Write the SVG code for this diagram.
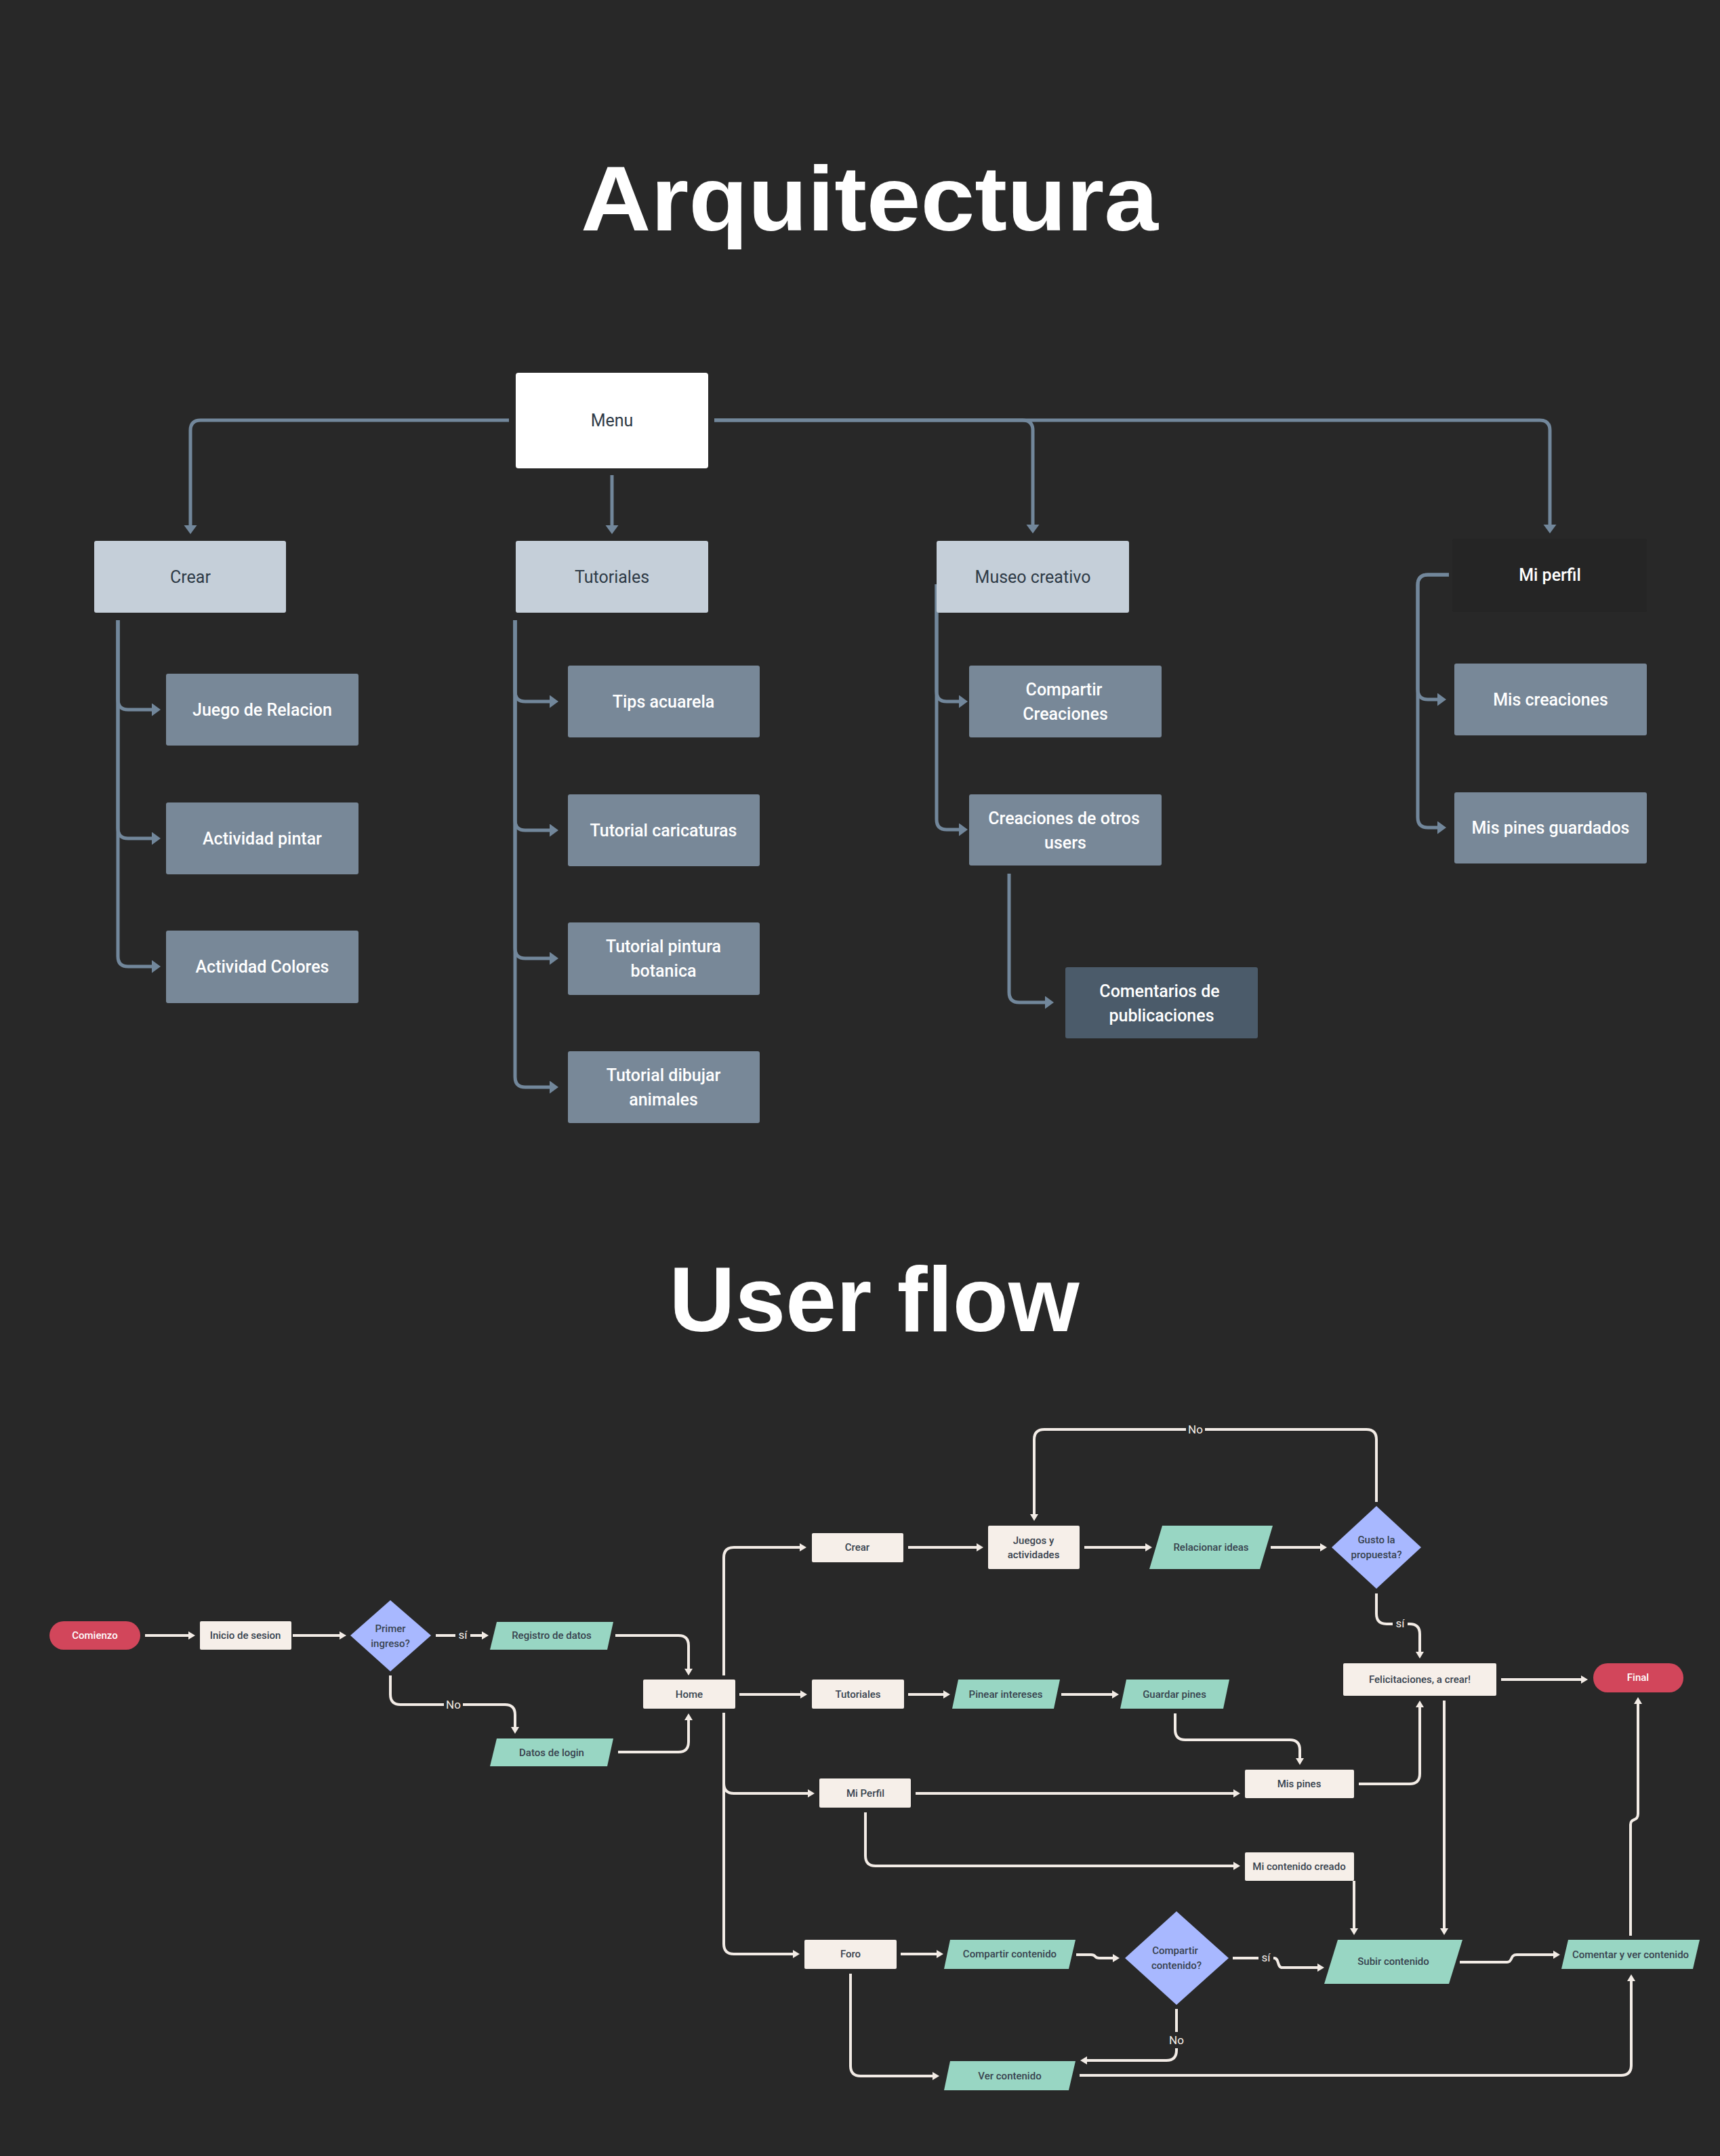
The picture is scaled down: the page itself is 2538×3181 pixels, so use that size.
<svg xmlns="http://www.w3.org/2000/svg" width="2538" height="3181" viewBox="0 0 2538 3181">
<style>
.title{font-family:"Liberation Sans",Arial,sans-serif;font-weight:700;font-size:135px;fill:#ffffff}
.t{font-family:Roboto,"Liberation Sans",sans-serif;text-anchor:middle;dominant-baseline:central}
.a1{fill:#c5cfd9}
.a2{fill:#788898}
.a3{fill:#4b5b6a}
.at1{font-size:25px;fill:#2f3b47}
.at2{font-size:25px;font-weight:500;fill:#ffffff}
.aline{fill:none;stroke:#72879b;stroke-width:5;marker-end:url(#ah)}
.cream{fill:#f6efe9}
.mint{fill:#98d6c3}
.dia{fill:#a8b8ff}
.red{fill:#d2465b}
.ut{font-size:15px;font-weight:500;fill:#38434f}
.uw{font-size:15px;font-weight:500;fill:#ffffff}
.uline{fill:none;stroke:#f3ece6;stroke-width:4;marker-end:url(#uh)}
.uplain{fill:none;stroke:#f3ece6;stroke-width:4}
.lbl{font-family:Roboto,"Liberation Sans",sans-serif;font-size:17px;fill:#f3ece6;text-anchor:middle;dominant-baseline:central}
.lbg{fill:#282828}
</style>
<defs>
<marker id="ah" markerUnits="userSpaceOnUse" markerWidth="14" markerHeight="20" refX="9" refY="9.5" orient="auto" viewBox="0 0 14 20">
<path d="M0,0 L13,9.5 L0,19 z" fill="#72879b"/>
</marker>
<marker id="uh" markerUnits="userSpaceOnUse" markerWidth="11" markerHeight="13" refX="6" refY="6" orient="auto" viewBox="0 0 11 13">
<path d="M0,0 L10,6 L0,12 z" fill="#f3ece6"/>
</marker>
</defs>
<rect x="0" y="0" width="2538" height="3181" fill="#282828"/>

<text class="title" x="1283" y="340" text-anchor="middle" textLength="852" lengthAdjust="spacingAndGlyphs">Arquitectura</text>
<text class="title" x="1290" y="1964" text-anchor="middle" textLength="605" lengthAdjust="spacingAndGlyphs">User flow</text>

<g id="arch-connectors">
<path class="aline" d="M751,620 H296 Q281,620 281,635 V784"/>
<path class="aline" d="M903,701 V784"/>
<path class="aline" d="M1054,620 H1509 Q1524,620 1524,635 V783"/>
<path class="aline" d="M1054,620 H2272 Q2287,620 2287,635 V783"/>
<path class="aline" d="M174,915 V1032 Q174,1047 189,1047 H233"/>
<path class="aline" d="M174,915 V1222 Q174,1237 189,1237 H233"/>
<path class="aline" d="M174,915 V1411 Q174,1426 189,1426 H233"/>
<path class="aline" d="M760,915 V1020 Q760,1035 775,1035 H820"/>
<path class="aline" d="M760,915 V1210 Q760,1225 775,1225 H820"/>
<path class="aline" d="M760,915 V1399 Q760,1414 775,1414 H820"/>
<path class="aline" d="M760,915 V1589 Q760,1604 775,1604 H820"/>
<path class="aline" d="M1382,862 V1020 Q1382,1035 1397,1035 H1424"/>
<path class="aline" d="M1382,862 V1209 Q1382,1224 1397,1224 H1424"/>
<path class="aline" d="M1489,1289 V1464 Q1489,1479 1504,1479 H1551"/>
<path class="aline" d="M2138,848 H2107 Q2092,848 2092,863 V1017 Q2092,1032 2107,1032 H2130"/>
<path class="aline" d="M2138,848 H2107 Q2092,848 2092,863 V1206 Q2092,1221 2107,1221 H2130"/>
</g>

<g id="menu"><rect x="761" y="550" width="284" height="141" rx="4" fill="#ffffff"/><text class="t at1" x="903" y="620" fill="#333">Menu</text></g>
<g id="crear"><rect class="a1" x="139" y="798" width="283" height="106" rx="3"/><text class="t at1" x="281" y="851">Crear</text></g>
<g id="tutoriales"><rect class="a1" x="761" y="798" width="284" height="106" rx="3"/><text class="t at1" x="903" y="851">Tutoriales</text></g>
<g id="museo"><rect class="a1" x="1382" y="798" width="284" height="106" rx="3"/><text class="t at1" x="1524" y="851">Museo creativo</text></g>
<g id="miperfil"><rect x="2143" y="795" width="287" height="108" rx="3" fill="#252525"/><text class="t at2" x="2287" y="848">Mi perfil</text></g>

<g id="juego"><rect class="a2" x="245" y="994" width="284" height="106" rx="3"/><text class="t at2" x="387" y="1047">Juego de Relacion</text></g>
<g id="pintar"><rect class="a2" x="245" y="1184" width="284" height="106" rx="3"/><text class="t at2" x="387" y="1237">Actividad pintar</text></g>
<g id="colores"><rect class="a2" x="245" y="1373" width="284" height="107" rx="3"/><text class="t at2" x="387" y="1426">Actividad Colores</text></g>
<g id="tips"><rect class="a2" x="838" y="982" width="283" height="106" rx="3"/><text class="t at2" x="979" y="1035">Tips acuarela</text></g>
<g id="caricaturas"><rect class="a2" x="838" y="1172" width="283" height="106" rx="3"/><text class="t at2" x="979" y="1225">Tutorial caricaturas</text></g>
<g id="botanica"><rect class="a2" x="838" y="1361" width="283" height="107" rx="3"/><text class="t at2" x="979" y="1396">Tutorial pintura</text><text class="t at2" x="979" y="1432">botanica</text></g>
<g id="dibujar"><rect class="a2" x="838" y="1551" width="283" height="106" rx="3"/><text class="t at2" x="979" y="1586">Tutorial dibujar</text><text class="t at2" x="979" y="1622">animales</text></g>
<g id="compartir"><rect class="a2" x="1430" y="982" width="284" height="106" rx="3"/><text class="t at2" x="1570" y="1017">Compartir</text><text class="t at2" x="1572" y="1053">Creaciones</text></g>
<g id="otros"><rect class="a2" x="1430" y="1172" width="284" height="105" rx="3"/><text class="t at2" x="1570" y="1207">Creaciones de otros</text><text class="t at2" x="1572" y="1243">users</text></g>
<g id="comentarios"><rect class="a3" x="1572" y="1427" width="284" height="105" rx="3"/><text class="t at2" x="1711" y="1462">Comentarios de</text><text class="t at2" x="1714" y="1498">publicaciones</text></g>
<g id="miscreaciones"><rect class="a2" x="2146" y="979" width="284" height="106" rx="3"/><text class="t at2" x="2288" y="1032">Mis creaciones</text></g>
<g id="mispinesguardados"><rect class="a2" x="2146" y="1169" width="284" height="105" rx="3"/><text class="t at2" x="2288" y="1221">Mis pines guardados</text></g>

<g id="flow-connectors">
<path class="uline" d="M214,2413 H284"/>
<path class="uline" d="M432,2413 H507"/>
<path class="uline" d="M643,2413 H717"/>
<path class="uline" d="M908,2413 H1001 Q1016,2413 1016,2428 V2468"/>
<path class="uline" d="M576,2472 V2500 Q576,2515 591,2515 H745 Q760,2515 760,2530 V2554"/>
<path class="uline" d="M912,2585 H1001 Q1016,2585 1016,2570 V2532"/>
<path class="uline" d="M1068,2472 V2298 Q1068,2283 1083,2283 H1186"/>
<path class="uline" d="M1091,2500 H1187"/>
<path class="uline" d="M1068,2527 V2631 Q1068,2646 1083,2646 H1198"/>
<path class="uline" d="M1068,2527 V2868 Q1068,2883 1083,2883 H1176"/>
<path class="uline" d="M1340,2283 H1447"/>
<path class="uline" d="M1600,2283 H1696"/>
<path class="uline" d="M1875,2283 H1954"/>
<path class="uline" d="M2031,2216 V2124 Q2031,2109 2016,2109 H1541 Q1526,2109 1526,2124 V2240"/>
<path class="uline" d="M2031,2351 V2381 Q2031,2396 2046,2396 H2080 Q2095,2396 2095,2411 V2443"/>
<path class="uline" d="M2215,2478 H2339"/>
<path class="uline" d="M1340,2500 H1398"/>
<path class="uline" d="M1566,2500 H1647"/>
<path class="uline" d="M1734,2528 V2552 Q1734,2567 1749,2567 H1903 Q1918,2567 1918,2582 V2600"/>
<path class="uline" d="M1351,2646 H1826"/>
<path class="uline" d="M1277,2674 V2738 Q1277,2753 1292,2753 H1826"/>
<path class="uline" d="M2005,2632 H2080 Q2095,2632 2095,2617 V2513"/>
<path class="uline" d="M2131,2509 V2851"/>
<path class="uline" d="M1998,2775 V2851"/>
<path class="uline" d="M1329,2883 H1388"/>
<path class="uline" d="M1588,2884 H1610 C1618,2884 1614,2889 1622,2889 H1648"/>
<path class="uline" d="M1819,2889 H1880 C1888,2889 1884,2903 1892,2903 H1950"/>
<path class="uline" d="M1736,2964 V3025 Q1736,3040 1721,3040 H1598"/>
<path class="uline" d="M1255,2912 V3048 Q1255,3063 1270,3063 H1382"/>
<path class="uline" d="M1593,3062 H2392 Q2407,3062 2407,3047 V2917"/>
<path class="uline" d="M2154,2895 H2224 C2232,2895 2228,2884 2238,2884 H2298"/>
<path class="uline" d="M2406,2856 V2692 C2406,2682 2417,2688 2417,2676 V2508"/>
<rect class="lbg" x="672" y="2401" width="22" height="24"/>
<text class="lbl" x="683" y="2412">sí</text>
<rect class="lbg" x="655" y="2503" width="28" height="24"/>
<text class="lbl" x="669" y="2515">No</text>
<rect class="lbg" x="1750" y="2097" width="28" height="24"/>
<text class="lbl" x="1764" y="2109">No</text>
<rect class="lbg" x="2055" y="2384" width="22" height="24"/>
<text class="lbl" x="2066" y="2395">sí</text>
<rect class="lbg" x="1857" y="2877" width="22" height="24"/>
<text class="lbl" x="1868" y="2888">sí</text>
<rect class="lbg" x="1722" y="2998" width="28" height="24"/>
<text class="lbl" x="1736" y="3010">No</text>
</g>

<g id="comienzo"><rect class="red" x="73" y="2392" width="134" height="42" rx="21"/><text class="t uw" x="140" y="2413">Comienzo</text></g>
<g id="inicio"><rect class="cream" x="295" y="2392" width="135" height="42" rx="2"/><text class="t ut" x="362" y="2413">Inicio de sesion</text></g>
<g id="primer"><polygon class="dia" points="576,2361 636,2413 576,2466 517,2413"/><text class="t ut" x="576" y="2403">Primer</text><text class="t ut" x="576" y="2425">ingreso?</text></g>
<g id="registro"><polygon class="mint" points="733,2393 905,2393 896,2434 723,2434"/><text class="t ut" x="814" y="2413">Registro de datos</text></g>
<g id="datoslogin"><polygon class="mint" points="733,2565 905,2565 896,2606 723,2606"/><text class="t ut" x="814" y="2586">Datos de login</text></g>
<g id="home"><rect class="cream" x="949" y="2478" width="136" height="43" rx="2"/><text class="t ut" x="1017" y="2500">Home</text></g>
<g id="f-crear"><rect class="cream" x="1198" y="2262" width="135" height="43" rx="2"/><text class="t ut" x="1265" y="2283">Crear</text></g>
<g id="juegos"><rect class="cream" x="1458" y="2251" width="135" height="64" rx="2"/><text class="t ut" x="1525" y="2273">Juegos y</text><text class="t ut" x="1525" y="2294">actividades</text></g>
<g id="relacionar"><polygon class="mint" points="1715,2251 1878,2251 1859,2315 1696,2315"/><text class="t ut" x="1787" y="2283">Relacionar ideas</text></g>
<g id="gusto"><polygon class="dia" points="2031,2222 2097,2283 2031,2344 1965,2283"/><text class="t ut" x="2031" y="2272">Gusto la</text><text class="t ut" x="2031" y="2294">propuesta?</text></g>
<g id="felicitaciones"><rect class="cream" x="1982" y="2454" width="226" height="48" rx="2"/><text class="t ut" x="2095" y="2478">Felicitaciones, a crear!</text></g>
<g id="final"><rect class="red" x="2351" y="2454" width="133" height="43" rx="21"/><text class="t uw" x="2417" y="2475">Final</text></g>
<g id="f-tutoriales"><rect class="cream" x="1198" y="2478" width="136" height="43" rx="2"/><text class="t ut" x="1266" y="2500">Tutoriales</text></g>
<g id="pinear"><polygon class="mint" points="1414,2478 1564,2478 1555,2521 1405,2521"/><text class="t ut" x="1484" y="2500">Pinear intereses</text></g>
<g id="guardar"><polygon class="mint" points="1662,2478 1814,2478 1805,2521 1653,2521"/><text class="t ut" x="1733" y="2500">Guardar pines</text></g>
<g id="f-miperfil"><rect class="cream" x="1209" y="2624" width="135" height="43" rx="2"/><text class="t ut" x="1277" y="2646">Mi Perfil</text></g>
<g id="mispines"><rect class="cream" x="1837" y="2611" width="161" height="42" rx="2"/><text class="t ut" x="1917" y="2632">Mis pines</text></g>
<g id="micontenido"><rect class="cream" x="1837" y="2733" width="161" height="42" rx="2"/><text class="t ut" x="1917" y="2754">Mi contenido creado</text></g>
<g id="foro"><rect class="cream" x="1187" y="2862" width="136" height="43" rx="2"/><text class="t ut" x="1255" y="2883">Foro</text></g>
<g id="compartircont"><polygon class="mint" points="1402,2862 1587,2862 1577,2905 1393,2905"/><text class="t ut" x="1490" y="2883">Compartir contenido</text></g>
<g id="compartirq"><polygon class="dia" points="1736,2820 1813,2889 1736,2958 1660,2889"/><text class="t ut" x="1734" y="2878">Compartir</text><text class="t ut" x="1736" y="2900">contenido?</text></g>
<g id="vercont"><polygon class="mint" points="1402,3041 1587,3041 1577,3084 1393,3084"/><text class="t ut" x="1490" y="3063">Ver contenido</text></g>
<g id="subir"><polygon class="mint" points="1974,2862 2158,2862 2138,2927 1954,2927"/><text class="t ut" x="2056" y="2894">Subir contenido</text></g>
<g id="comentar"><polygon class="mint" points="2314,2862 2508,2862 2498,2905 2304,2905"/><text class="t ut" x="2406" y="2884">Comentar y ver contenido</text></g>
</svg>
